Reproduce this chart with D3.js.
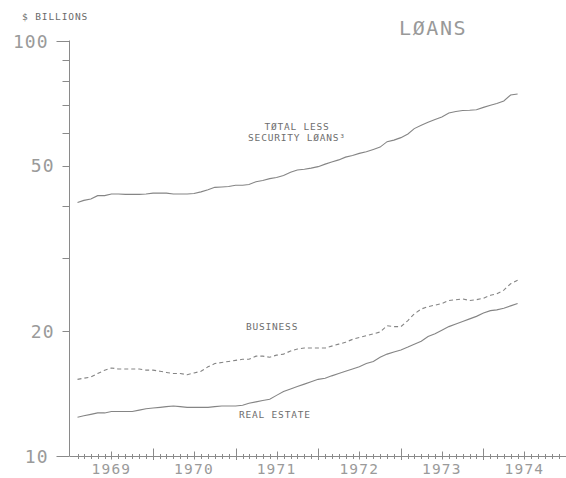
<!DOCTYPE html>
<html>
<head>
<meta charset="utf-8">
<script src="https://cdn.jsdelivr.net/npm/d3@7"></script>
<style>
  html, body { margin: 0; padding: 0; background: #fff; }
  svg { display: block; }
  text { font-family: "DejaVu Sans Mono", "Liberation Mono", monospace; fill: #8a8a8a; }
</style>
</head>
<body>
<svg id="chart" width="566" height="478"></svg>
<script>
// ---- data ($ billions, monthly, Feb 1969 - Jun 1974) ----
const months = d3.timeMonth.range(new Date(1969, 1, 1), new Date(1974, 6, 1));

const totalLessSecurity = [
  40.8, 41.3, 41.6, 42.4, 42.4, 42.8, 42.8, 42.7, 42.7, 42.7, 42.8,
  43.0, 43.0, 43.0, 42.8, 42.8, 42.8, 42.9, 43.3, 43.8, 44.4, 44.5, 44.6,
  44.9, 44.9, 45.1, 45.8, 46.1, 46.6, 46.9, 47.4, 48.3, 48.9, 49.1, 49.4,
  49.8, 50.5, 51.1, 51.7, 52.5, 53.0, 53.6, 54.1, 54.8, 55.5, 57.2, 57.7,
  58.5, 59.7, 61.5, 62.7, 63.7, 64.7, 65.6, 67.1, 67.6, 68.0, 68.1, 68.3,
  69.2, 70.0, 70.7, 71.7, 74.1, 74.5
];
const business = [
  15.3, 15.4, 15.5, 15.8, 16.1, 16.3, 16.2, 16.2, 16.2, 16.2, 16.1,
  16.1, 16.0, 15.9, 15.8, 15.8, 15.7, 15.85, 16.0, 16.4, 16.7, 16.8, 16.9,
  17.0, 17.1, 17.1, 17.4, 17.4, 17.3, 17.5, 17.6, 17.9, 18.1, 18.2, 18.2,
  18.2, 18.2, 18.4, 18.6, 18.8, 19.1, 19.3, 19.5, 19.7, 19.9, 20.6, 20.5,
  20.5, 21.2, 22.0, 22.6, 22.9, 23.1, 23.3, 23.7, 23.8, 23.9, 23.7, 23.8,
  24.0, 24.4, 24.6, 25.1, 26.0, 26.5
];
const realEstate = [
  12.4, 12.5, 12.6, 12.7, 12.7, 12.8, 12.8, 12.8, 12.8, 12.9, 13.0,
  13.05, 13.1, 13.15, 13.2, 13.15, 13.1, 13.1, 13.1, 13.1, 13.15, 13.2, 13.2,
  13.2, 13.25, 13.4, 13.5, 13.6, 13.7, 14.0, 14.3, 14.5, 14.7, 14.9, 15.1,
  15.3, 15.4, 15.6, 15.8, 16.0, 16.2, 16.4, 16.7, 16.9, 17.3, 17.6, 17.8,
  18.0, 18.3, 18.6, 18.9, 19.4, 19.7, 20.1, 20.5, 20.8, 21.1, 21.4, 21.7,
  22.1, 22.4, 22.5, 22.7, 23.0, 23.3
];

const yTickValues = [10, 20, 30, 40, 50, 60, 70, 80, 90, 100];
const yTickLabels = [10, 20, 50, 100];
const yearLabels = ["1969", "1970", "1971", "1972", "1973", "1974"];

const seriesLabels = [
  { lines: ["TØTAL LESS", "SECURITY LØANS³"], anchor: "middle" },
  { lines: ["BUSINESS"], anchor: "start" },
  { lines: ["REAL ESTATE"], anchor: "start" }
];

// ---- layout ----
const svg = d3.select("#chart");
const axisX = 69.5, baseY = 456, topY = 41;
const x = d3.scaleTime()
  .domain([new Date(1969, 0, 1), new Date(1975, 0, 1)])
  .range([70.5, 566]);
const y = d3.scaleLog().domain([10, 100]).range([baseY, topY]);

const ink = "#8a8a8a";

// y axis line
svg.append("line").attr("x1", axisX).attr("x2", axisX)
  .attr("y1", topY - 0.5).attr("y2", baseY)
  .attr("stroke", ink).attr("stroke-width", 1);

// y ticks
const yt = svg.append("g");
yTickValues.forEach(v => {
  const long = (v === 10 || v === 100);
  const len = long ? 13 : 7;
  yt.append("line")
    .attr("x1", axisX - len).attr("x2", axisX)
    .attr("y1", Math.round(y(v)) + 0.5).attr("y2", Math.round(y(v)) + 0.5)
    .attr("stroke", ink).attr("stroke-width", 1);
  if (yTickLabels.includes(v)) {
    yt.append("text")
      .attr("x", axisX - len - 8)
      .attr("y", y(v) + 6.5)
      .attr("text-anchor", "end")
      .attr("font-size", 18)
      .attr("letter-spacing", 1)
      .style("fill", "#9a9a9a")
      .text(v);
  }
});

// x axis line
svg.append("line").attr("x1", axisX).attr("x2", 566)
  .attr("y1", baseY + 0.5).attr("y2", baseY + 0.5)
  .attr("stroke", ink).attr("stroke-width", 1);

// x ticks: monthly crosses, taller at mid-year and year boundaries
const monthTicks = d3.timeMonth.range(new Date(1969, 1, 1), new Date(1975, 0, 1));
monthTicks.forEach(d => {
  const m = d.getMonth();
  let up = 2.5, down = 2.5;
  if (m === 0) { up = 8; down = 3.5; }
  else if (m === 6) { up = 5; down = 3; }
  const xx = Math.round(x(d)) + 0.5;
  svg.append("line")
    .attr("x1", xx).attr("x2", xx)
    .attr("y1", baseY + 0.5 - up).attr("y2", baseY + 0.5 + down)
    .attr("stroke", ink).attr("stroke-width", 1);
});

// year labels centered in each year
yearLabels.forEach(yr => {
  const mid = new Date(+yr, 6, 1);
  svg.append("text")
    .attr("x", x(mid))
    .attr("y", 474)
    .attr("text-anchor", "middle")
    .attr("font-size", 14.5)
    .attr("letter-spacing", 1.2)
    .style("fill", "#9a9a9a")
    .text(yr);
});

// lines
const line = d3.line().x((d, i) => x(months[i])).y(d => y(d));
function drawSeries(vals, dash) {
  svg.append("path")
    .datum(vals)
    .attr("d", line)
    .attr("fill", "none")
    .attr("stroke", "#858585")
    .attr("stroke-width", 1.1)
    .attr("stroke-dasharray", dash || null);
}
drawSeries(totalLessSecurity);
drawSeries(business, "4,3");
drawSeries(realEstate);

// titles
svg.append("text").attr("x", 22).attr("y", 20)
  .attr("font-size", 9.5).attr("letter-spacing", 0.9)
  .style("fill", "#6a6a6a")
  .text("$ BILLIONS");
svg.append("text").attr("x", 399).attr("y", 35)
  .attr("font-size", 20).attr("letter-spacing", 1.6)
  .style("fill", "#999")
  .text("LØANS");

// series labels
const labelPos = [[297, 129.5], [246, 329.5], [239, 418]];
seriesLabels.forEach((l, i) => {
  const t = svg.append("text")
    .attr("x", labelPos[i][0]).attr("y", labelPos[i][1])
    .attr("text-anchor", l.anchor)
    .attr("font-size", 9.5).attr("letter-spacing", 0.8)
    .style("fill", "#6e6e6e");
  l.lines.forEach((s, k) => {
    t.append("tspan").attr("x", labelPos[i][0]).attr("dy", k === 0 ? 0 : 11.5).text(s);
  });
});
</script>
</body>
</html>
